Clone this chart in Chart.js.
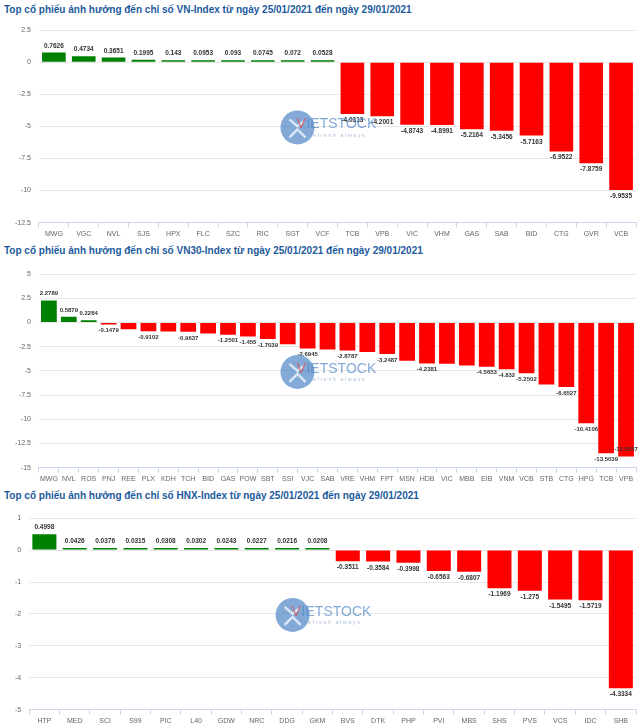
<!DOCTYPE html>
<html>
<head>
  <meta charset="utf-8">
  <title>Top cổ phiếu ảnh hưởng</title>
  <script src="https://cdn.jsdelivr.net/npm/chart.js"></script>
  <style>
    body{margin:0;width:640px;height:728px;background:#fff;position:relative;overflow:hidden;font-family:"Liberation Sans",Arial,sans-serif;}
    .title{position:absolute;left:4px;font-weight:bold;font-size:10px;color:#1c5a9c;white-space:nowrap;}
    .box{position:absolute;left:0;width:640px;}
  </style>
</head>
<body>
  <div class="title" style="top:4px">Top cổ phiếu ảnh hưởng đến chỉ số VN-Index từ ngày 25/01/2021 đến ngày 29/01/2021</div>
  <div class="box" style="top:18px;height:223px"><canvas id="c1"></canvas></div>
  <div class="title" style="top:245px">Top cổ phiếu ảnh hưởng đến chỉ số VN30-Index từ ngày 25/01/2021 đến ngày 29/01/2021</div>
  <div class="box" style="top:262px;height:224px"><canvas id="c2"></canvas></div>
  <div class="title" style="top:490px">Top cổ phiếu ảnh hưởng đến chỉ số HNX-Index từ ngày 25/01/2021 đến ngày 29/01/2021</div>
  <div class="box" style="top:506px;height:222px"><canvas id="c3"></canvas></div>
  <script>
    // VN-Index
    const vnCodes = ["MWG","VGC","NVL","SJS","HPX","FLC","SZC","RIC","SGT","VCF","TCB","VPB","VIC","VHM","GAS","SAB","BID","CTG","GVR","VCB"];
    const vnValues = [0.7626,0.4734,0.3651,0.1995,0.143,0.0953,0.093,0.0745,0.072,0.0528,-4.0313,-4.2001,-4.8743,-4.8991,-5.2164,-5.3456,-5.7163,-6.9522,-7.8759,-9.9535];

    // VN30-Index (values without a printed label are read off the bar length)
    const vn30Codes = ["MWG","NVL","ROS","PNJ","REE","PLX","KDH","TCH","BID","GAS","POW","SBT","SSI","VJC","SAB","VRE","VHM","FPT","MSN","HDB","VIC","MBB","EIB","VNM","VCB","STB","CTG","HPG","TCB","VPB"];
    const vn30Values = [2.2789,0.5879,0.2284,-0.1479,-0.68,-0.9102,-0.93,-0.9637,-1.12,-1.2501,-1.455,-1.7039,-2.25,-2.6945,-2.79,-2.8787,-3.05,-3.2487,-3.95,-4.2381,-4.26,-4.45,-4.5653,-4.832,-5.2502,-6.4,-6.6527,-10.4106,-13.5039,-13.8527];
    const vn30NoLabel = ["REE","KDH","BID","SSI","SAB","VHM","MSN","VIC","MBB","STB"];

    // HNX-Index
    const hnxCodes = ["HTP","MED","SCI","S99","PIC","L40","GDW","NRC","DDG","GKM","BVS","DTK","PHP","PVI","MBS","SHS","PVS","VCS","IDC","SHB"];
    const hnxValues = [0.4998,0.0426,0.0376,0.0315,0.0308,0.0302,0.0243,0.0227,0.0216,0.0208,-0.3511,-0.3584,-0.3998,-0.6563,-0.6807,-1.1969,-1.275,-1.5495,-1.5719,-4.3334];

    const FONT = '"Liberation Sans", Arial, sans-serif';

    // value printed above / below each bar
    const valueLabels = {
      id: 'valueLabels',
      afterDatasetsDraw(chart, args, opts) {
        const ctx = chart.ctx;
        const bars = chart.getDatasetMeta(0).data;
        const data = chart.data.datasets[0].data;
        const skip = opts.skip || [];
        ctx.save();
        ctx.font = 'bold ' + (opts.size || 6.5) + 'px ' + FONT;
        ctx.fillStyle = '#333';
        ctx.textAlign = 'center';
        ctx.textBaseline = 'top';
        const h = 7;
        let prev = null;
        bars.forEach((bar, i) => {
          if (skip.includes(chart.data.labels[i])) return;
          const v = data[i];
          const txt = String(v);
          const w = ctx.measureText(txt).width;
          const x = Math.min(bar.x, chart.width - w / 2 - 1);
          let top = v >= 0 ? bar.y - 3 - h : bar.y + 3;
          if (prev && v < 0 && x - w / 2 + 3 < prev.r && top < prev.b && top + h > prev.t) {
            top = bar.y - 3 - h; // no room: put it inside the bar
          }
          ctx.fillText(txt, x, top);
          prev = { r: x + w / 2, t: top, b: top + h };
        });
        ctx.restore();
      }
    };

    // faint logo in the middle of the plot
    const watermark = {
      id: 'watermark',
      afterDatasetsDraw(chart) {
        const { ctx, chartArea: a } = chart;
        const cx = (a.left + a.right) / 2 - 40;
        const cy = (a.top + a.bottom) / 2 + 1;
        ctx.save();
        ctx.globalAlpha = 0.7;
        ctx.fillStyle = '#4f86c6';
        ctx.beginPath();
        ctx.arc(cx, cy, 17, 0, Math.PI * 2);
        ctx.fill();
        ctx.strokeStyle = '#fff';
        ctx.lineWidth = 2.5;
        ctx.beginPath();
        ctx.moveTo(cx - 8, cy + 10); ctx.lineTo(cx, cy + 2); ctx.lineTo(cx + 8, cy + 10);
        ctx.moveTo(cx - 8, cy - 8); ctx.lineTo(cx, cy - 1); ctx.lineTo(cx + 6, cy - 6);
        ctx.stroke();
        ctx.textBaseline = 'middle';
        ctx.textAlign = 'left';
        ctx.font = '14px ' + FONT;
        ctx.fillStyle = '#e2474f';
        ctx.fillText('V', cx - 1, cy - 3);
        ctx.fillStyle = '#4f86c6';
        ctx.fillText('IETSTOCK', cx + 9, cy - 3);
        ctx.font = '5.5px ' + FONT;
        ctx.fillStyle = '#8aa6c8';
        ctx.fillText('r e f r e s h   a l w a y s', cx + 12, cy + 8);
        ctx.restore();
      }
    };

    function makeChart(id, codes, values, min, max, step, skip, labelSize) {
      new Chart(document.getElementById(id), {
        type: 'bar',
        data: {
          labels: codes,
          datasets: [{
            data: values,
            backgroundColor: values.map(v => v >= 0 ? '#008000' : '#ff0000'),
            borderWidth: 0,
            minBarLength: 2,
            barPercentage: 0.88,
            categoryPercentage: 0.9
          }]
        },
        options: {
          animation: false,
          responsive: true,
          maintainAspectRatio: false,
          layout: { padding: { top: 6, bottom: 1, left: 7, right: 4 } },
          plugins: {
            legend: { display: false },
            tooltip: { enabled: false },
            valueLabels: { skip: skip, size: labelSize }
          },
          scales: {
            x: {
              offset: true,
              grid: { display: true, drawOnChartArea: false, offset: true, tickLength: 5, color: '#ccd6eb' },
              border: { display: true, color: '#ccd6eb' },
              ticks: { font: { size: 7, family: FONT }, color: '#666', padding: 2, maxRotation: 0, autoSkip: false }
            },
            y: {
              min: min, max: max,
              grid: { color: '#e6e6e6', drawTicks: false },
              border: { display: false },
              ticks: { stepSize: step, font: { size: 7, family: FONT }, color: '#666', padding: 8 }
            }
          }
        },
        plugins: [valueLabels, watermark]
      });
    }

    makeChart('c1', vnCodes, vnValues, -12.5, 2.5, 2.5, [], 6.5);
    makeChart('c2', vn30Codes, vn30Values, -15, 5, 2.5, vn30NoLabel, 6);
    makeChart('c3', hnxCodes, hnxValues, -5, 1, 1, [], 6.5);
  </script>
</body>
</html>
